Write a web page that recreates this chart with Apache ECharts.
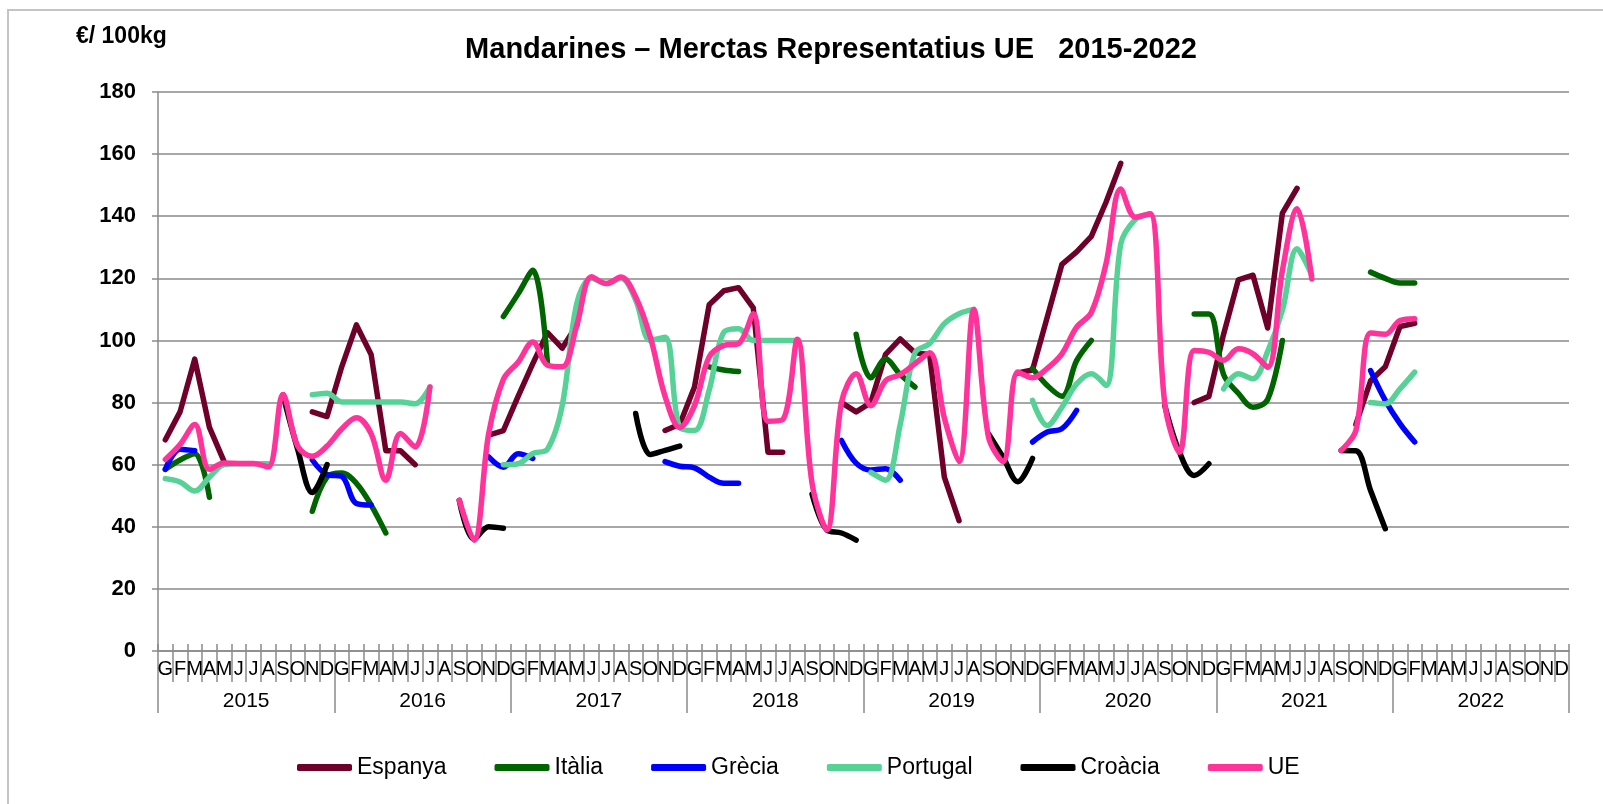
<!DOCTYPE html>
<html>
<head>
<meta charset="utf-8">
<script src="https://cdn.jsdelivr.net/npm/echarts@6/dist/echarts.min.js"></script>
<style>
html,body{margin:0;padding:0;background:#fff;}
#chart{width:1603px;height:804px;}
</style>
</head>
<body>
<div id="chart"></div>
<script>
const YEARS = ['2015','2016','2017','2018','2019','2020','2021','2022'];
const MONTHS = ['G','F','M','A','M','J','J','A','S','O','N','D'];
const Y_TICKS = [0,20,40,60,80,100,120,140,160,180];
const _ = null;

// 96 monthly values, Jan 2015 .. Dec 2022 (12 per row = one year)
const espanya = [
  68,77,94,72,61,_,_,_,_,_,77,75.5,
  91.5,105,95.5,64.5,64.5,60,_,_,_,_,69.5,71,
  82,92.5,102.5,97.5,105,_,_,_,_,_,71,73,
  85,111.5,116,117,110.5,64,64,_,_,_,80,77,
  80,95.5,100.5,96,95.5,56,42,_,_,_,89.5,90.5,
  107.5,124.5,128.5,133.5,144.5,157,_,_,_,_,80,82,
  102,119.5,121,104,141,149,_,_,_,73,87,91.5,
  104.5,105.5,_,_,_,_,_,_,_,_,_,_
];
const italia = [
  58.5,61.5,63.5,49.5,_,_,_,_,_,_,45,56,
  57.3,54,47,38,_,_,_,_,_,_,_,107.7,
  115,122.6,92.5,_,_,_,_,_,_,_,_,_,
  _,91.5,90.5,90,_,_,_,_,_,_,_,102,
  88,94,89,85,_,_,_,_,_,_,_,91,
  85.5,82,93.5,100,_,_,_,_,_,_,108.5,108.5,
  89,83,78.5,81,100,_,_,_,_,_,122,120,
  118.5,118.5,_,_,_,_,_,_,_,_,_,_
];
const grecia = [
  58.5,65,64.5,_,_,_,_,_,_,_,61.5,56.8,
  56.2,47.5,47,_,_,_,_,_,_,_,62.5,59.2,
  63.5,62,_,_,_,_,_,_,_,_,61,59.5,
  59,56,54,54,_,_,_,_,_,_,67.8,60.5,
  58.3,58.7,55,_,_,_,_,_,_,_,_,67.3,
  70.5,71.6,77.5,_,_,_,_,_,_,_,_,_,
  _,_,_,_,_,_,_,_,_,_,90.3,80.7,
  73.2,67.3,_,_,_,_,_,_,_,_,_,_
];
const portugal = [
  55.5,54.4,51.5,56,60,60.3,60.3,60.3,_,_,82.5,83,
  80.2,80.2,80.2,80.2,80.2,79.6,85,_,_,_,_,60,
  60.3,63.6,65,79,112,120,118.3,120,113,100,101,72,
  71,84,102.7,103.8,100,100,100,100,_,_,_,_,
  57.5,55,73,96,99,105.4,108.6,110,_,_,_,80.7,
  72.6,78.5,86,89.3,85.5,131,139,140.8,_,_,_,_,
  84.4,89.3,87.7,96.5,109.7,129.5,121,_,_,_,80,79.6,
  84.4,89.8,_,_,_,_,_,_,_,_,_,_
];
const croacia = [
  _,_,_,_,_,_,_,_,82.5,65,51,60,
  _,_,_,_,_,_,_,_,48.5,36,40,39.5,
  _,_,_,_,_,_,_,_,76.5,63.3,64.6,66,
  _,_,_,_,_,_,_,_,50.5,39,38,35.7,
  _,_,_,_,_,_,_,_,70,62.4,54.5,62,
  _,_,_,_,_,_,_,_,79,64,56.5,60.3,
  _,_,_,_,_,_,_,_,64.6,64.5,51.7,39.4,
  _,_,_,_,_,_,_,_,_,_,_,_
];
const ue = [
  61.7,66.5,72.9,58.5,60.5,60.4,60.4,59.3,82.6,66,62.7,66,
  71.5,75.1,70,55,70,65.7,85,_,48.5,35.7,70,87.5,
  93,99.5,92,91.5,105,120.5,118.3,120.4,114,101,82,72,
  79,94.7,98.4,99,108.6,74,74.5,100.4,54,39,80,89.3,
  79,87,89,92.5,96,75,61,110,69,61,89.8,88,
  91,95.7,104.3,109,124.7,148.8,139.7,140.8,79.6,64,96.8,96.2,
  93.6,97.3,95.7,91.4,122.5,142.4,119.8,_,64.6,71,102.4,102,
  106.4,107,_,_,_,_,_,_,_,_,_,_
];

const SERIES = [
  {name:'Espanya', data:espanya, color:'#6f0029', smooth:false},
  {name:'Itàlia', data:italia, color:'#006400', smooth:true},
  {name:'Grècia', data:grecia, color:'#0000ff', smooth:true},
  {name:'Portugal', data:portugal, color:'#57d296', smooth:true},
  {name:'Croàcia', data:croacia, color:'#000000', smooth:true},
  {name:'UE', data:ue, color:'#ff3399', smooth:true}
];

const categories = [];
YEARS.forEach(y => MONTHS.forEach((m, k) => categories.push(y + '-' + k)));

const FONT = 'Liberation Sans, Arial, sans-serif';
const GRAY = '#8a8a8a';

const chart = echarts.init(document.getElementById('chart'), null, {renderer:'canvas'});
chart.setOption({
  animation:false,
  backgroundColor:'#ffffff',
  textStyle:{fontFamily:FONT},
  grid:{left:158, top:92, width:1411, height:559, containLabel:false},
  graphic:[
    {type:'polyline', shape:{points:[[8,804],[8,10],[1603,10]]}, style:{stroke:'#c4c4c4', lineWidth:2, fill:null}, silent:true},
    {type:'text', x:831, y:50, style:{text:'Mandarines – Merctas Representatius UE   2015-2022', font:'bold 29px ' + FONT, fill:'#000', textAlign:'center', textVerticalAlign:'middle'}},
    {type:'text', x:76, y:37, style:{text:'€/ 100kg', font:'bold 23px ' + FONT, fill:'#000', textAlign:'left', textVerticalAlign:'middle'}}
  ],
  legend:{
    data:SERIES.map(s => s.name),
    left:297, top:756, padding:0,
    icon:'roundRect', itemWidth:55, itemHeight:7, itemGap:48,
    textStyle:{fontSize:23, color:'#000', fontFamily:FONT, lineHeight:23}
  },
  xAxis:[
    {
      type:'category', data:categories, position:'bottom', boundaryGap:true,
      axisLine:{show:true, lineStyle:{color:GRAY, width:1.5}},
      axisTick:{show:true, interval:0, length:31, lineStyle:{color:GRAY, width:1.5}},
      axisLabel:{show:true, interval:0, margin:8, fontSize:20, lineHeight:20, color:'#000', fontFamily:FONT,
        formatter:v => MONTHS[+v.split('-')[1]]},
      splitLine:{show:false}
    },
    {
      type:'category', data:categories, position:'bottom', boundaryGap:true,
      axisLine:{show:false},
      axisTick:{show:true, inside:true, interval:0, length:7, lineStyle:{color:GRAY, width:1.5}},
      axisLabel:{show:false}, splitLine:{show:false}
    },
    {
      type:'category', data:YEARS, position:'bottom', boundaryGap:true,
      axisLine:{show:false},
      axisTick:{show:true, interval:0, length:62, lineStyle:{color:GRAY, width:1.5}},
      axisLabel:{show:true, interval:0, margin:39.5, fontSize:21, lineHeight:21, color:'#000', fontFamily:FONT},
      splitLine:{show:false}
    }
  ],
  yAxis:{
    type:'value', min:Y_TICKS[0], max:Y_TICKS[Y_TICKS.length-1], interval:Y_TICKS[1]-Y_TICKS[0],
    axisLine:{show:true, lineStyle:{color:GRAY, width:1.5}},
    axisTick:{show:true, length:6, lineStyle:{color:GRAY, width:1.5}},
    axisLabel:{margin:22, fontSize:22, fontWeight:'bold', color:'#000', fontFamily:FONT},
    splitLine:{show:true, lineStyle:{color:GRAY, width:1.5}}
  },
  series:SERIES.map(s => ({
    name:s.name, type:'line', data:s.data, xAxisIndex:0,
    smooth:s.smooth ? 0.35 : false, showSymbol:false, symbol:'none',
    connectNulls:false,
    lineStyle:{color:s.color, width:5.5, cap:'round', join:'round'},
    itemStyle:{color:s.color},
    emphasis:{disabled:true}
  }))
});
</script>
</body>
</html>
